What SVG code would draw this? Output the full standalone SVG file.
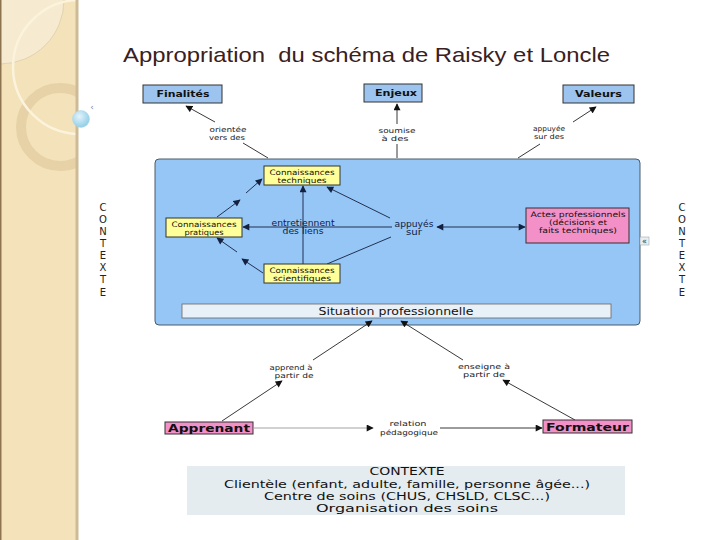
<svg xmlns="http://www.w3.org/2000/svg" width="720" height="540" viewBox="0 0 720 540">
<defs>
<marker id="ah" viewBox="0 0 10 10" refX="9" refY="5" markerWidth="8" markerHeight="7" markerUnits="userSpaceOnUse" orient="auto-start-reverse"><path d="M0,0 L10,5 L0,10 z" fill="#111"/></marker>
<marker id="ahn" viewBox="0 0 10 10" refX="9" refY="5" markerWidth="8" markerHeight="7" markerUnits="userSpaceOnUse" orient="auto-start-reverse"><path d="M0,0 L10,5 L0,10 z" fill="#14203f"/></marker>
<radialGradient id="bub" cx="0.4" cy="0.35" r="0.7"><stop offset="0" stop-color="#e4f4fb"/><stop offset="1" stop-color="#8ccbe6"/></radialGradient>
<clipPath id="bar"><rect x="0" y="0" width="77" height="540"/></clipPath>
</defs>
<style>
.t{font-family:"DejaVu Sans",Verdana,sans-serif;text-anchor:middle;fill:#111}
.lbl{font-size:7px;fill:#222}
.yt{font-size:7.5px}
.in{font-size:8px;fill:#14203f}
.yb{fill:#ffff99;stroke:#333;stroke-width:1}
.tb{fill:#9cc4ef;stroke:#333;stroke-width:1}
.pk{fill:#f490c8;stroke:#333;stroke-width:1}
.ln{stroke:#222;stroke-width:0.9;fill:none}
.lb{stroke:#14203f;stroke-width:0.9;fill:none}
.vt{font-family:"DejaVu Sans",Verdana,sans-serif;font-size:10px;fill:#222;text-anchor:middle}
</style>
<rect width="720" height="540" fill="#fff"/>
<!-- decorative side bar -->
<g id="sidebar">
<rect x="0" y="0" width="77" height="540" fill="#f3e2ba"/>
<g clip-path="url(#bar)">
<circle cx="0" cy="0" r="64" fill="#f6ead0" stroke="#d8c49c" stroke-width="0.6"/>
<circle cx="60" cy="127" r="39" fill="none" stroke="#e6d2a6" stroke-width="10"/>
<circle cx="80" cy="67" r="67" fill="none" stroke="#fbf3dc" stroke-width="2.5"/>
</g>
<rect x="0" y="0" width="1.5" height="540" fill="#8c7450"/>
<rect x="75.5" y="0" width="3" height="540" fill="#cdbb98"/>
<circle cx="81" cy="119" r="8.5" fill="url(#bub)" stroke="#a9d6ea" stroke-width="0.5"/>
<text x="92" y="110" font-family="DejaVu Sans,sans-serif" font-size="9" fill="#7a8a99" text-anchor="middle">‹</text>
</g>
<text x="123" y="62" font-family="Liberation Sans,Arial,sans-serif" font-size="21" fill="#3a2020" style="white-space:pre" textLength="487" lengthAdjust="spacingAndGlyphs">Appropriation  du schéma de Raisky et Loncle</text>
<!-- vertical CONTEXTE labels -->
<g id="ctx-left">
<text class="vt" x="103" y="211">C</text><text class="vt" x="103" y="223">O</text><text class="vt" x="103" y="235">N</text><text class="vt" x="103" y="247">T</text><text class="vt" x="103" y="259">E</text><text class="vt" x="103" y="271">X</text><text class="vt" x="103" y="283">T</text><text class="vt" x="103" y="296">E</text>
</g>
<g id="ctx-right">
<text class="vt" x="682" y="211">C</text><text class="vt" x="682" y="223">O</text><text class="vt" x="682" y="235">N</text><text class="vt" x="682" y="247">T</text><text class="vt" x="682" y="259">E</text><text class="vt" x="682" y="271">X</text><text class="vt" x="682" y="283">T</text><text class="vt" x="682" y="296">E</text>
</g>
<!-- main blue box -->
<g id="situation-box">
<rect x="155" y="159" width="485" height="166" rx="4" fill="#95c6f6" stroke="#4a5a6a" stroke-width="1"/>
<rect x="182" y="304" width="429" height="14" fill="#e9f1f8" stroke="#666" stroke-width="0.8"/>
<text class="t" x="396" y="314.5" font-size="10" textLength="155" lengthAdjust="spacingAndGlyphs">Situation professionnelle</text>
</g>
<g id="icon-right">
<rect x="640" y="237" width="9" height="8" fill="#e8eef4" stroke="#999" stroke-width="0.5"/>
<text x="644.5" y="244" font-family="DejaVu Sans,sans-serif" font-size="8" fill="#333" text-anchor="middle">«</text>
</g>
<!-- connectors -->
<g id="connectors">
<line class="ln" x1="268" y1="158" x2="243" y2="143"/>
<line class="ln" x1="215" y1="122" x2="186" y2="106" marker-end="url(#ah)"/>
<line class="ln" x1="397" y1="158" x2="397" y2="144"/>
<line class="ln" x1="397" y1="124" x2="397" y2="104" marker-end="url(#ah)"/>
<line class="ln" x1="518" y1="158" x2="540" y2="144"/>
<line class="ln" x1="573" y1="122" x2="596" y2="107" marker-end="url(#ah)"/>
<line class="lb" x1="217" y1="217" x2="240" y2="200" marker-end="url(#ahn)"/>
<line class="lb" x1="246" y1="193" x2="262" y2="179" marker-end="url(#ahn)"/>
<line class="lb" x1="263" y1="273" x2="242" y2="259" marker-end="url(#ahn)"/>
<line class="lb" x1="237" y1="252" x2="217" y2="238" marker-end="url(#ahn)"/>
<line class="lb" x1="303" y1="264" x2="303" y2="186" marker-end="url(#ahn)"/>
<line class="lb" x1="390" y1="218" x2="327" y2="187" marker-end="url(#ahn)"/>
<line class="lb" x1="327" y1="264" x2="391" y2="237"/>
<line class="lb" x1="392" y1="227" x2="243" y2="227" marker-end="url(#ahn)"/>
<line class="lb" x1="437" y1="227" x2="525" y2="227" marker-start="url(#ahn)" marker-end="url(#ahn)"/>
<line class="ln" x1="222" y1="421" x2="282" y2="381" marker-end="url(#ah)"/>
<line class="ln" x1="313" y1="360" x2="372" y2="321" marker-end="url(#ah)"/>
<line class="ln" x1="575" y1="420" x2="503" y2="380" marker-end="url(#ah)"/>
<line class="ln" x1="463" y1="360" x2="401" y2="321" marker-end="url(#ah)"/>
<line x1="254" y1="428" x2="373" y2="428" stroke="#999" stroke-width="0.9" marker-end="url(#ah)"/>
<line class="ln" x1="440" y1="428" x2="542" y2="428" marker-end="url(#ah)"/>
</g>
<!-- link labels -->
<g id="labels">
<text class="t lbl" x="228" y="132" textLength="37" lengthAdjust="spacingAndGlyphs">orientée</text><text class="t lbl" x="227" y="140" textLength="36" lengthAdjust="spacingAndGlyphs">vers des</text>
<text class="t lbl" x="397" y="133" textLength="37" lengthAdjust="spacingAndGlyphs">soumise</text><text class="t lbl" x="395" y="141" textLength="27" lengthAdjust="spacingAndGlyphs">à des</text>
<text class="t lbl" x="549" y="131" textLength="32" lengthAdjust="spacingAndGlyphs">appuyée</text><text class="t lbl" x="549" y="139" textLength="30" lengthAdjust="spacingAndGlyphs">sur des</text>
<text class="t in" x="303" y="226" textLength="63" lengthAdjust="spacingAndGlyphs">entretiennent</text><text class="t in" x="303" y="234" textLength="41" lengthAdjust="spacingAndGlyphs">des liens</text>
<text class="t in" x="414" y="227" textLength="39" lengthAdjust="spacingAndGlyphs">appuyés</text><text class="t in" x="414" y="235" textLength="16" lengthAdjust="spacingAndGlyphs">sur</text>
<text class="t lbl" x="291" y="370" textLength="43" lengthAdjust="spacingAndGlyphs">apprend à</text><text class="t lbl" x="294" y="378" textLength="39" lengthAdjust="spacingAndGlyphs">partir de</text>
<text class="t lbl" x="484" y="369" textLength="52" lengthAdjust="spacingAndGlyphs">enseigne à</text><text class="t lbl" x="484" y="377" textLength="42" lengthAdjust="spacingAndGlyphs">partir de</text>
<text class="t lbl" x="408" y="426" textLength="37" lengthAdjust="spacingAndGlyphs">relation</text><text class="t lbl" x="409" y="435" textLength="58" lengthAdjust="spacingAndGlyphs">pédagogique</text>
</g>
<!-- nodes -->
<g id="finalites"><rect class="tb" x="143" y="85" width="79" height="18"/><text class="t" x="183" y="97" font-size="8" font-weight="bold" textLength="53" lengthAdjust="spacingAndGlyphs">Finalités</text></g>
<g id="enjeux"><rect class="tb" x="364" y="84" width="58" height="18"/><text class="t" x="396" y="96" font-size="8" font-weight="bold" textLength="42" lengthAdjust="spacingAndGlyphs">Enjeux</text></g>
<g id="valeurs"><rect class="tb" x="563" y="85" width="71" height="18"/><text class="t" x="598.5" y="97" font-size="8" font-weight="bold" textLength="47" lengthAdjust="spacingAndGlyphs">Valeurs</text></g>
<g id="conn-techniques"><rect class="yb" x="264" y="166" width="76" height="19"/><text class="t yt" x="302" y="174.5" textLength="65" lengthAdjust="spacingAndGlyphs">Connaissances</text><text class="t yt" x="302" y="182.5" textLength="49" lengthAdjust="spacingAndGlyphs">techniques</text></g>
<g id="conn-pratiques"><rect class="yb" x="166" y="218" width="76" height="19"/><text class="t yt" x="204" y="226.5" textLength="65" lengthAdjust="spacingAndGlyphs">Connaissances</text><text class="t yt" x="204" y="234.5" textLength="39" lengthAdjust="spacingAndGlyphs">pratiques</text></g>
<g id="conn-scientifiques"><rect class="yb" x="264" y="264" width="76" height="19"/><text class="t yt" x="302" y="272.5" textLength="65" lengthAdjust="spacingAndGlyphs">Connaissances</text><text class="t yt" x="302" y="280.5" textLength="58" lengthAdjust="spacingAndGlyphs">scientifiques</text></g>
<g id="actes"><rect class="pk" x="526" y="208" width="103" height="35"/><text class="t yt" x="578" y="216.5" textLength="95" lengthAdjust="spacingAndGlyphs">Actes professionnels</text><text class="t yt" x="578" y="224.5" textLength="58" lengthAdjust="spacingAndGlyphs">(décisions et</text><text class="t yt" x="578" y="232.5" textLength="78" lengthAdjust="spacingAndGlyphs">faits techniques)</text></g>
<g id="apprenant"><rect class="pk" x="165" y="422" width="88" height="12"/><text class="t" x="209" y="432" font-size="10.5" font-weight="bold" textLength="82" lengthAdjust="spacingAndGlyphs">Apprenant</text></g>
<g id="formateur"><rect class="pk" x="543" y="420" width="89" height="13"/><text class="t" x="587.5" y="431" font-size="10.5" font-weight="bold" textLength="83" lengthAdjust="spacingAndGlyphs">Formateur</text></g>
<g id="contexte">
<rect x="187" y="466" width="438" height="49" fill="#e4ecf0"/>
<text class="t" x="407" y="475" font-size="11" textLength="75" lengthAdjust="spacingAndGlyphs">CONTEXTE</text>
<text class="t" x="407" y="487.5" font-size="11" textLength="366" lengthAdjust="spacingAndGlyphs">Clientèle (enfant, adulte, famille, personne âgée...)</text>
<text class="t" x="407" y="499.5" font-size="11" textLength="286" lengthAdjust="spacingAndGlyphs">Centre de soins (CHUS, CHSLD, CLSC...)</text>
<text class="t" x="407" y="511.5" font-size="11" textLength="182" lengthAdjust="spacingAndGlyphs">Organisation des soins</text>
</g>
</svg>
